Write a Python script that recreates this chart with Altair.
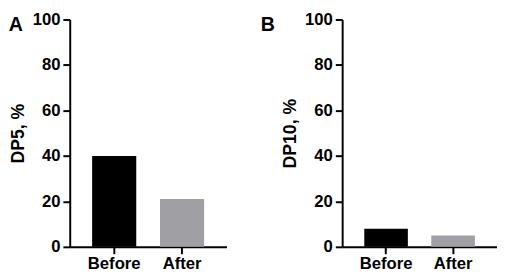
import altair as alt
import pandas as pd

groups = ["Before", "After"]
dp5 = [40, 21]
dp10 = [8, 5]
colors = ["#000000", "#a0a0a4"]
y_ticks = [0, 20, 40, 60, 80, 100]

FONT = "Liberation Sans"


def panel(values, title, letter, width, letter_x):
    df = pd.DataFrame({"group": groups, "value": values})
    bars = alt.Chart(df).mark_bar().encode(
        x=alt.X("group:N", sort=groups, title=None,
                scale=alt.Scale(paddingInner=0.35, paddingOuter=0.33),
                axis=alt.Axis(labelAngle=0, labelFont=FONT, labelFontSize=17,
                              labelFontWeight="bold", labelColor="black",
                              domainColor="black", domainWidth=2,
                              tickColor="black", tickWidth=2, tickSize=7,
                              labelPadding=2)),
        y=alt.Y("value:Q", title=title,
                scale=alt.Scale(domain=[0, 100], nice=False),
                axis=alt.Axis(values=y_ticks, grid=False, labelFont=FONT,
                              labelFontSize=17, labelFontWeight="bold",
                              labelColor="black", domainColor="black",
                              domainWidth=2, tickColor="black", tickWidth=2,
                              tickSize=7, labelPadding=3, titleFont=FONT,
                              titleFontSize=18, titleFontWeight="bold",
                              titleColor="black", titlePadding=5)),
        color=alt.Color("group:N", sort=groups,
                        scale=alt.Scale(domain=groups, range=colors),
                        legend=None),
    )
    lab = alt.Chart(pd.DataFrame({"t": [letter]})).mark_text(
        font=FONT, fontSize=20, fontWeight="bold", color="black",
        align="center", baseline="middle"
    ).encode(text="t:N", x=alt.value(letter_x), y=alt.value(6))
    return alt.layer(bars, lab).properties(width=width, height=232)


a = panel(dp5, "DP5, %", "A", 160, -55)
b = panel(dp10, "DP10, %", "B", 158, -76)

chart = alt.hconcat(a, b, spacing=34).properties(padding=0).configure_view(
    stroke=None
)

chart.save("out.html", embed_options={"renderer": "svg", "actions": False})
